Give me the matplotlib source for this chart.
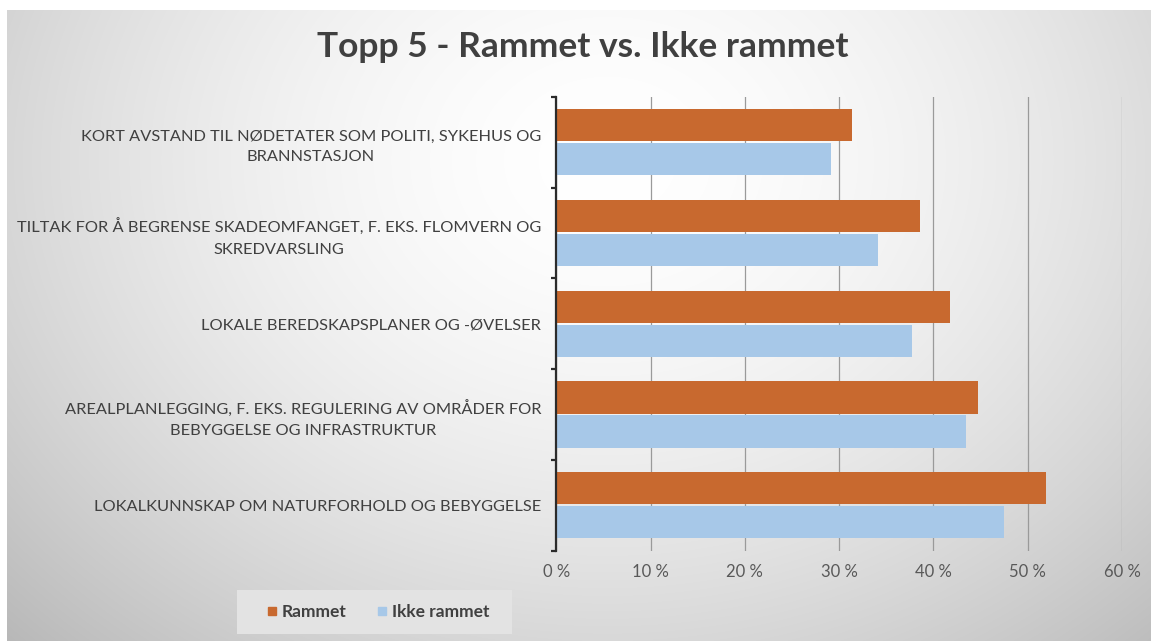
import numpy as np
import matplotlib
matplotlib.use("Agg")
import matplotlib.pyplot as plt
from matplotlib.lines import Line2D
from matplotlib.patches import Rectangle

# Survey data: share of respondents (%) naming each measure
categories = [
    "KORT AVSTAND TIL NØDETATER SOM POLITI, SYKEHUS OG\nBRANNSTASJON",
    "TILTAK FOR Å BEGRENSE SKADEOMFANGET, F. EKS. FLOMVERN OG\nSKREDVARSLING",
    "LOKALE BEREDSKAPSPLANER OG -ØVELSER",
    "AREALPLANLEGGING, F. EKS. REGULERING AV OMRÅDER FOR\nBEBYGGELSE OG INFRASTRUKTUR",
    "LOKALKUNNSKAP OM NATURFORHOLD OG BEBYGGELSE",
]
rammet = [31.4, 38.6, 41.8, 44.7, 51.9]
ikke_rammet = [29.1, 34.1, 37.7, 43.5, 47.5]
series_names = ["Rammet", "Ikke rammet"]
x_ticks = [0, 10, 20, 30, 40, 50, 60]
title = "Topp 5 - Rammet vs. Ikke rammet"

ORANGE = "#C8692F"
BLUE = "#A7C8E8"
TEXT = "#404040"

plt.rcParams["font.family"] = ["Lato", "DejaVu Sans"]

W, H = 1151, 641
fig = plt.figure(figsize=(W / 100, H / 100), dpi=100)
fig.patch.set_facecolor("white")

# Chart area background: soft radial gradient, white in the middle
bw, bh = W - 7, H - 10
bg = fig.add_axes([7 / W, 0, bw / W, bh / H])
bg.axis("off")
yy, xx = np.mgrid[0:bh, 0:bw]
d = np.hypot((xx - 600) / 1.05, (yy - 150) / 0.85)
g = 1 - 0.22 * np.clip(d / 700, 0, 1.3) ** 1.7
bg.imshow(np.dstack([g, g, g]), aspect="auto", interpolation="bilinear",
          extent=(0, bw, bh, 0))
bg.set_xlim(0, bw)
bg.set_ylim(bh, 0)

# Plot area
left, right, top, bottom = 556.4, 1122.0, 97.0, 550.5
ax = fig.add_axes([left / W, (H - bottom) / H, (right - left) / W, (bottom - top) / H])
ax.patch.set_alpha(0)

pos = np.arange(len(categories))
off, bh_bar = 0.1875, 0.355
ax.barh(pos - off, rammet, height=bh_bar, color=ORANGE, zorder=3)
ax.barh(pos + off, ikke_rammet, height=bh_bar, color=BLUE, zorder=3)

ax.set_xlim(x_ticks[0], x_ticks[-1])
ax.set_ylim(len(categories) - 0.5, -0.5)
ax.set_xticks(x_ticks)
ax.set_xticklabels([f"{v} %" for v in x_ticks])
ax.grid(axis="x", color="#9a9a9a", lw=0.9, zorder=1)
ax.set_axisbelow(True)

for s in ("top", "right", "bottom"):
    ax.spines[s].set_visible(False)
ax.spines["left"].set_color("#2b2b2b")
ax.spines["left"].set_linewidth(1.6)
ax.spines["left"].set_zorder(4)

ax.tick_params(axis="x", length=0, pad=10, labelsize=12, labelcolor="#595959")
ax.set_yticks(pos)
ax.set_yticklabels(categories)
ax.set_yticks(np.arange(-0.5, len(categories)), minor=True)
ax.tick_params(axis="y", which="major", length=0, pad=11, labelsize=11.8, labelcolor=TEXT)
ax.tick_params(axis="y", which="minor", length=3.6, width=1.6, color="#2b2b2b", direction="out")
for lab in ax.get_yticklabels():
    lab.set_multialignment("center")
    lab.set_linespacing(1.6)

fig.text(583 / W, 1 - 47 / H, title, ha="center", va="center",
         fontsize=25.5, weight="bold", color=TEXT)

# Legend panel
lx0, lx1, ly0, ly1 = 237, 512, 590, 634
fig.patches.append(Rectangle((lx0 / W, 1 - ly1 / H), (lx1 - lx0) / W, (ly1 - ly0) / H,
                             transform=fig.transFigure, facecolor="#e3e3e3",
                             edgecolor="none", zorder=5))
handles = [Line2D([], [], ls="none", marker="s", markersize=6, color=c) for c in (ORANGE, BLUE)]
leg = fig.legend(handles, series_names, loc="center", bbox_to_anchor=(378 / W, 1 - 612 / H),
                 ncol=2, frameon=False,
                 prop=dict(weight="bold", size=12.5), labelcolor=TEXT, handlelength=0.6,
                 handletextpad=0.3, columnspacing=1.7, borderpad=0.5, borderaxespad=0)
leg.set_zorder(6)

fig.savefig("out.png", dpi=100)
